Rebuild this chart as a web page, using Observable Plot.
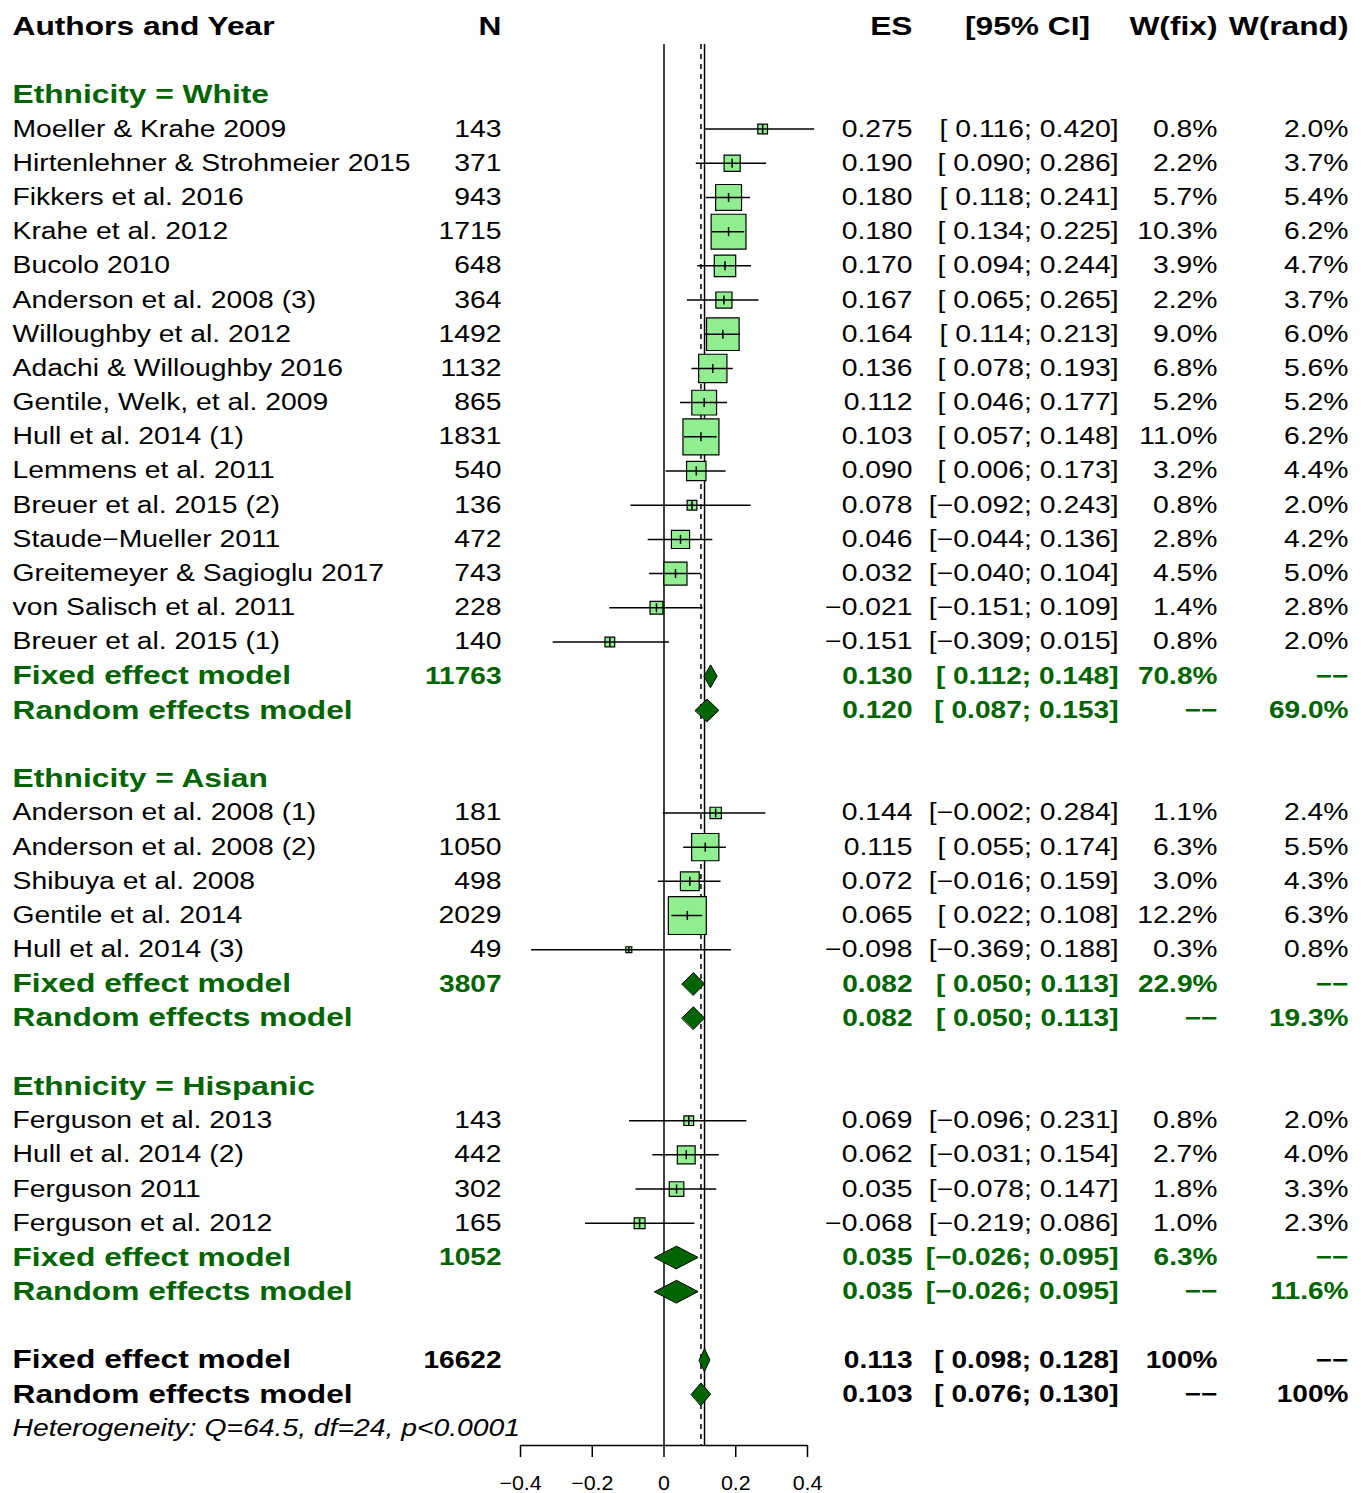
<!DOCTYPE html>
<html>
<head>
<meta charset="utf-8">
<script src="https://cdn.jsdelivr.net/npm/d3@7"></script>
<script src="https://cdn.jsdelivr.net/npm/@observablehq/plot@0.6"></script>
<style>
html, body { margin: 0; padding: 0; background: #fff; }
#chart svg { display: block; }
</style>
</head>
<body>
<div id="chart"></div>
<script>
// ---------------- DATA ----------------
const groupNames = ["White", "Asian", "Hispanic"];

const studyLabels = [
  "Moeller & Krahe 2009", "Hirtenlehner & Strohmeier 2015", "Fikkers et al. 2016", "Krahe et al. 2012",
  "Bucolo 2010", "Anderson et al. 2008 (3)", "Willoughby et al. 2012", "Adachi & Willoughby 2016",
  "Gentile, Welk, et al. 2009", "Hull et al. 2014 (1)", "Lemmens et al. 2011", "Breuer et al. 2015 (2)",
  "Staude\u2212Mueller 2011", "Greitemeyer & Sagioglu 2017", "von Salisch et al. 2011", "Breuer et al. 2015 (1)",
  "Anderson et al. 2008 (1)", "Anderson et al. 2008 (2)", "Shibuya et al. 2008", "Gentile et al. 2014", "Hull et al. 2014 (3)",
  "Ferguson et al. 2013", "Hull et al. 2014 (2)", "Ferguson 2011", "Ferguson et al. 2012"
];
const studyGroup = [
  "White","White","White","White","White","White","White","White","White","White","White","White","White","White","White","White",
  "Asian","Asian","Asian","Asian","Asian",
  "Hispanic","Hispanic","Hispanic","Hispanic"
];
const studyN = [143, 371, 943, 1715, 648, 364, 1492, 1132, 865, 1831, 540, 136, 472, 743, 228, 140,
                181, 1050, 498, 2029, 49,
                143, 442, 302, 165];
const studyES = [0.275, 0.190, 0.180, 0.180, 0.170, 0.167, 0.164, 0.136, 0.112, 0.103, 0.090, 0.078, 0.046, 0.032, -0.021, -0.151,
                 0.144, 0.115, 0.072, 0.065, -0.098,
                 0.069, 0.062, 0.035, -0.068];
const studyLo = [0.116, 0.090, 0.118, 0.134, 0.094, 0.065, 0.114, 0.078, 0.046, 0.057, 0.006, -0.092, -0.044, -0.040, -0.151, -0.309,
                 -0.002, 0.055, -0.016, 0.022, -0.369,
                 -0.096, -0.031, -0.078, -0.219];
const studyHi = [0.420, 0.286, 0.241, 0.225, 0.244, 0.265, 0.213, 0.193, 0.177, 0.148, 0.173, 0.243, 0.136, 0.104, 0.109, 0.015,
                 0.284, 0.174, 0.159, 0.108, 0.188,
                 0.231, 0.154, 0.147, 0.086];
const studyWfix = [0.8, 2.2, 5.7, 10.3, 3.9, 2.2, 9.0, 6.8, 5.2, 11.0, 3.2, 0.8, 2.8, 4.5, 1.4, 0.8,
                   1.1, 6.3, 3.0, 12.2, 0.3,
                   0.8, 2.7, 1.8, 1.0];
const studyWrand = [2.0, 3.7, 5.4, 6.2, 4.7, 3.7, 6.0, 5.6, 5.2, 6.2, 4.4, 2.0, 4.2, 5.0, 2.8, 2.0,
                    2.4, 5.5, 4.3, 6.3, 0.8,
                    2.0, 4.0, 3.3, 2.3];

// subgroup summaries (White, Asian, Hispanic)
const groupN = [11763, 3807, 1052];
const groupFixedES = [0.130, 0.082, 0.035];
const groupFixedLo = [0.112, 0.050, -0.026];
const groupFixedHi = [0.148, 0.113, 0.095];
const groupRandomES = [0.120, 0.082, 0.035];
const groupRandomLo = [0.087, 0.050, -0.026];
const groupRandomHi = [0.153, 0.113, 0.095];
const groupWfix = [70.8, 22.9, 6.3];
const groupWrand = [69.0, 19.3, 11.6];

// overall
const overallN = 16622;
const overallFixed = [0.113, 0.098, 0.128];   // estimate, lower, upper
const overallRandom = [0.103, 0.076, 0.130];
const heterogeneityText = "Heterogeneity: Q=64.5, df=24, p<0.0001";

const headerLabels = ["Authors and Year", "N", "ES", "[95% CI]", "W(fix)", "W(rand)"];
const xTicks = [-0.4, -0.2, 0, 0.2, 0.4];

// ---------------- FORMATTING ----------------
const MINUS = "\u2212";
const f3 = v => (v < 0 ? MINUS : "") + Math.abs(v).toFixed(3);
const fCI = (lo, hi) => "[" + (lo < 0 ? MINUS : " ") + Math.abs(lo).toFixed(3) + "; " + (hi < 0 ? MINUS : "") + Math.abs(hi).toFixed(3) + "]";
const fW = v => v == null ? MINUS + MINUS : (v === 100 ? "100%" : v.toFixed(1) + "%");

// ---------------- ROW LAYOUT ----------------
const rows = [];
rows.push({kind: "header", row: 0, label: headerLabels[0], n: headerLabels[1], es: headerLabels[2], wfix: headerLabels[4], wrand: headerLabels[5], cihead: headerLabels[3]});
let r = 2;
groupNames.forEach((g, gi) => {
  rows.push({kind: "group", row: r++, label: "Ethnicity = " + g});
  studyLabels.forEach((lab, i) => {
    if (studyGroup[i] !== g) return;
    rows.push({kind: "study", row: r++, label: lab, n: String(studyN[i]), es: f3(studyES[i]), ci: fCI(studyLo[i], studyHi[i]),
      wfix: fW(studyWfix[i]), wrand: fW(studyWrand[i]), est: studyES[i], lo: studyLo[i], hi: studyHi[i], wf: studyWfix[i]});
  });
  rows.push({kind: "subsum", row: r++, label: "Fixed effect model", n: String(groupN[gi]), es: f3(groupFixedES[gi]),
    ci: fCI(groupFixedLo[gi], groupFixedHi[gi]), wfix: fW(groupWfix[gi]), wrand: fW(null),
    est: groupFixedES[gi], lo: groupFixedLo[gi], hi: groupFixedHi[gi]});
  rows.push({kind: "subsum", row: r++, label: "Random effects model", n: "", es: f3(groupRandomES[gi]),
    ci: fCI(groupRandomLo[gi], groupRandomHi[gi]), wfix: fW(null), wrand: fW(groupWrand[gi]),
    est: groupRandomES[gi], lo: groupRandomLo[gi], hi: groupRandomHi[gi]});
  r++;
});
rows.push({kind: "overall", row: r++, label: "Fixed effect model", n: String(overallN), es: f3(overallFixed[0]),
  ci: fCI(overallFixed[1], overallFixed[2]), wfix: fW(100), wrand: fW(null),
  est: overallFixed[0], lo: overallFixed[1], hi: overallFixed[2]});
rows.push({kind: "overall", row: r++, label: "Random effects model", n: "", es: f3(overallRandom[0]),
  ci: fCI(overallRandom[1], overallRandom[2]), wfix: fW(null), wrand: fW(100),
  est: overallRandom[0], lo: overallRandom[1], hi: overallRandom[2]});
const hetRow = r;
rows.push({kind: "het", row: hetRow, label: heterogeneityText});

const studies = rows.filter(d => d.kind === "study");
const summaries = rows.filter(d => d.kind === "subsum" || d.kind === "overall");
const DH = 0.33; // diamond half-height in row units
const diamondPts = summaries.flatMap((d, i) => [
  {id: i, x: d.lo, y: d.row},
  {id: i, x: d.est, y: d.row - DH},
  {id: i, x: d.hi, y: d.row},
  {id: i, x: d.est, y: d.row + DH}
]);

// ---------------- STYLE ----------------
const GREEN = "#006400";
const FONT = "'Liberation Sans', Arial, Helvetica, sans-serif";
const FS = 23.4, FSB = 24, FSL = 26;
const columns = [
  {key: "label", anchor: "left", dx: -508, ta: "start"},
  {key: "n", anchor: "left", dx: -19, ta: "end"},
  {key: "es", anchor: "right", dx: 105, ta: "end"},
  {key: "ci", anchor: "right", dx: 311, ta: "end"},
  {key: "wfix", anchor: "right", dx: 410, ta: "end"},
  {key: "wrand", anchor: "right", dx: 541, ta: "end"}
];

const textMarks = [];
const styles = [
  {kinds: ["study"], fill: "black", weight: "normal", tag: "reg"},
  {kinds: ["header"], fill: "black", weight: "bold", tag: "head"},
  {kinds: ["overall"], fill: "black", weight: "bold", tag: "bold"},
  {kinds: ["group", "subsum"], fill: GREEN, weight: "bold", tag: "bold"}
];
for (const s of styles) {
  for (const c of columns) {
    const data = rows.filter(d => s.kinds.includes(d.kind) && d[c.key] != null && d[c.key] !== "");
    const lettered = s.tag === "head" || (s.tag === "bold" && c.key === "label");
    const cls = s.tag === "reg" ? "t-reg" : (lettered ? "t-boldlab" : "t-boldnum");
    const size = s.tag === "reg" ? FS : (lettered ? FSL : FSB);
    textMarks.push(Plot.text(data, {
      y: "row", text: c.key, frameAnchor: c.anchor, dx: c.dx, textAnchor: c.ta,
      fill: s.fill, fontWeight: s.weight, fontSize: size, className: cls
    }));
  }
}
// CI header, centered over its column
textMarks.push(Plot.text(rows.filter(d => d.kind === "header"), {
  y: "row", text: "cihead", frameAnchor: "right", dx: 220, textAnchor: "middle",
  fill: "black", fontWeight: "bold", fontSize: FSL, className: "t-boldlab"
}));
// heterogeneity
textMarks.push(Plot.text(rows.filter(d => d.kind === "het"), {
  y: "row", text: "label", frameAnchor: "left", dx: -508, textAnchor: "start",
  fill: "black", fontStyle: "italic", fontSize: FS, className: "t-reg"
}));

const vTick = {
  draw(ctx, size) {
    const h = Math.min(Math.sqrt(size), 9) / 2;
    ctx.moveTo(0, -h);
    ctx.lineTo(0, h);
  }
};

const svg = Plot.plot({
  width: 1361,
  height: 1493,
  marginLeft: 520,
  marginRight: 554,
  marginTop: 44,
  marginBottom: 48,
  style: {fontFamily: FONT, fontSize: FS + "px", color: "black", background: "white"},
  x: {domain: [xTicks[0], xTicks[xTicks.length - 1]], axis: null},
  y: {domain: [0, hetRow + 0.5], range: [26, 1445], axis: null},
  r: {type: "sqrt", domain: [0, d3.max(studyWfix)], range: [0, 21.4]},
  marks: [
    Plot.ruleX([0], {stroke: "black", strokeWidth: 1.5}),
    Plot.ruleX([overallFixed[0]], {stroke: "black", strokeWidth: 1.5}),
    Plot.ruleX([overallRandom[0]], {stroke: "black", strokeWidth: 1.5, strokeDasharray: "5,5"}),
    Plot.dot(studies, {x: "est", y: "row", r: "wf", symbol: "square", fill: "#90EE90", stroke: "black", strokeWidth: 1.2}),
    Plot.ruleY(studies, {y: "row", x1: "lo", x2: "hi", stroke: "black", strokeWidth: 1.5}),
    Plot.dot(studies, {x: "est", y: "row", r: "wf", symbol: vTick, fill: "none", stroke: "black", strokeWidth: 1.5}),
    Plot.line(diamondPts, {x: "x", y: "y", z: "id", curve: "linear-closed", fill: GREEN, stroke: "black", strokeWidth: 1}),
    Plot.ruleY([hetRow + 0.5], {x1: xTicks[0], x2: xTicks[xTicks.length - 1], stroke: "black", strokeWidth: 1.5}),
    Plot.axisX({ticks: xTicks, tickFormat: d => d === 0 ? "0" : (d < 0 ? MINUS : "") + Math.abs(d).toFixed(1),
      tickSize: 12, tickPadding: 18, fontSize: 20, strokeWidth: 1.5, stroke: "black", fill: "black",
      fontVariant: "normal", className: "t-tick"}),
    ...textMarks
  ]
});

// the reference's lettering is drawn wider than this font: stretch each text horizontally about its anchor
function stretch(selector, k) {
  svg.querySelectorAll(selector).forEach(t => {
    const tr = t.getAttribute("transform") || "";
    t.setAttribute("transform", (tr + ` scale(${k},1)`).trim());
  });
}
stretch("g.t-reg text", 1.21);
stretch("g.t-boldlab text", 1.22);
stretch("g.t-boldnum text", 1.17);
stretch("g.t-tick text", 1.07);

document.getElementById("chart").append(svg);
</script>
</body>
</html>
